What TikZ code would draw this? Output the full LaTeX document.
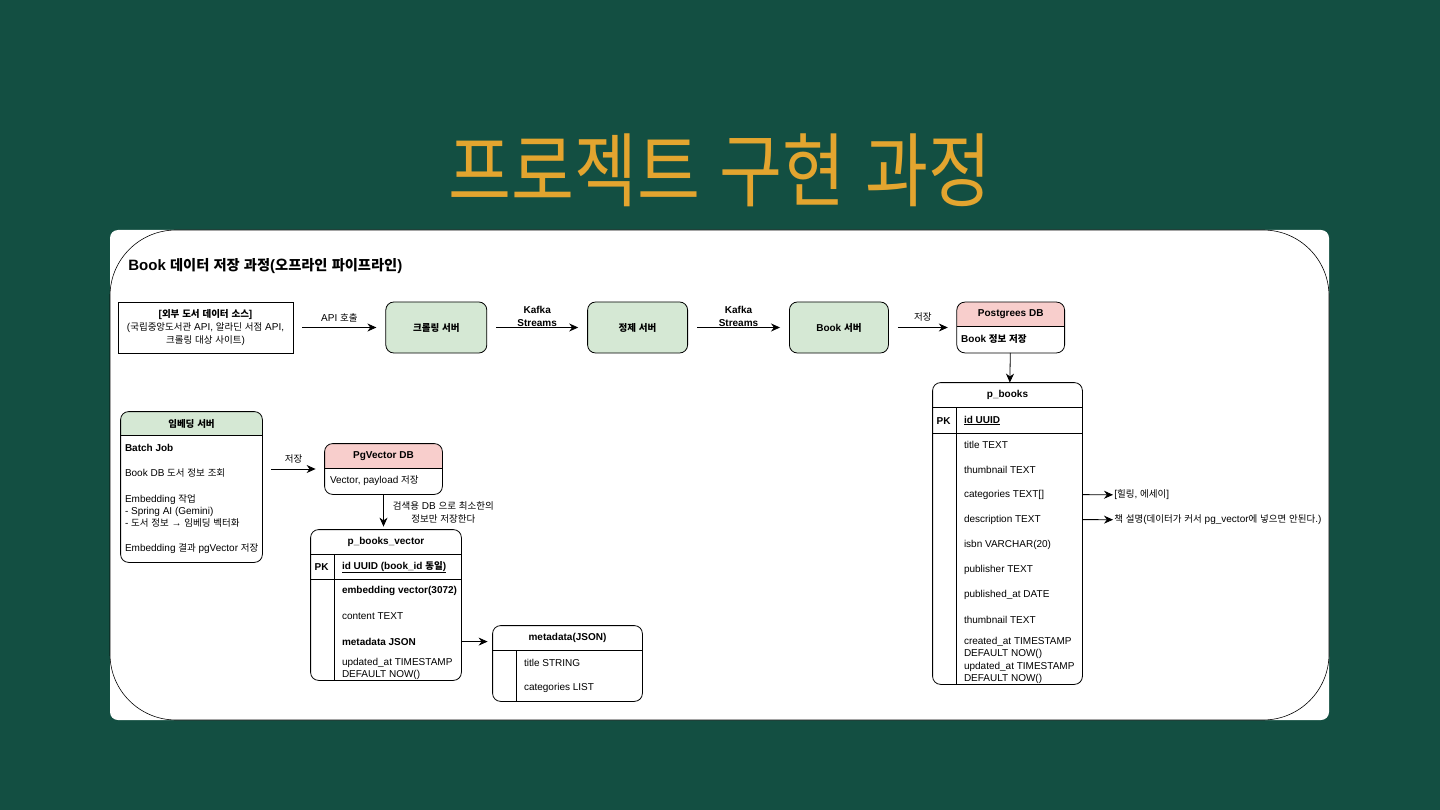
\documentclass[tikz,border=0pt]{standalone}
\usepackage{fontspec}
\usepackage{graphicx}
\setmainfont{Liberation Sans}
\newfontfamily\krfont[Scale=0.95]{Noto Sans CJK KR}
% hangul syllables are set in the CJK font, the rest in Liberation Sans
\XeTeXinterchartokenstate=1
\newXeTeXintercharclass\hangulclass
\count255="AC00
\loop
  \XeTeXcharclass\count255=\hangulclass
  \advance\count255 by 1
\ifnum\count255<"D7A4 \repeat
\XeTeXinterchartoks 0 \hangulclass = {\begingroup\krfont}
\XeTeXinterchartoks 4095 \hangulclass = {\begingroup\krfont}
\XeTeXinterchartoks \hangulclass 0 = {\endgroup}
\XeTeXinterchartoks \hangulclass 4095 = {\endgroup}
\usetikzlibrary{arrows.meta,positioning}
\definecolor{slide}{HTML}{134F42}
\definecolor{gold}{HTML}{E3A52F}
\definecolor{srvgreen}{HTML}{D5E8D4}
\definecolor{dbpink}{HTML}{F8CECC}

\begin{document}
\begin{tikzpicture}[
  x=1pt, y=-1pt,
  font=\fontsize{10}{12}\selectfont,
  line width=0.8pt,
  srv/.style={draw, rounded corners=8pt, fill=srvgreen, inner sep=0pt,
              minimum height=51pt, font=\fontsize{10}{12}\selectfont\bfseries},
  tbl/.style={inner sep=0pt},
  hdr/.style={inner sep=1pt, font=\fontsize{10}{12}\selectfont\bfseries},
  cell/.style={anchor=west, inner sep=1pt, align=left},
  bcell/.style={cell, font=\fontsize{10}{12}\selectfont\bfseries},
  lbl/.style={inner sep=1pt, align=center},
  flow/.style={-{Stealth[length=9pt,width=8pt]}, shorten <=9pt, shorten >=9pt},
  link/.style={-{Stealth[length=9pt,width=8pt]}}
]
\useasboundingbox (0,0) rectangle (1440,810);
\fill[slide] (0,0) rectangle (1440,810);
\node[text=gold, inner sep=0pt, font=\fontsize{72}{90}\selectfont] (ttl) at (720,170)
  {\scalebox{1}[1.18]{프로젝트 구현 과정}};
\fill[white, rounded corners=8pt] (110,230) rectangle (1329,720);
\draw[line width=0.6pt, rounded corners=66pt] (110,230) rectangle (1329,720);
\node[anchor=west, inner sep=0pt, font=\fontsize{15}{18}\selectfont\bfseries] (head) at (128,266)
  {Book 데이터 저장 과정(오프라인 파이프라인)};

% top row
\node[draw, minimum width=175pt, minimum height=51pt, inner sep=0pt, align=center,
      font=\fontsize{10}{13}\selectfont] (src) at (205.5,327.5)
  {\textbf{[외부 도서 데이터 소스]}\\(국립중앙도서관 API, 알라딘 서점 API,\\크롤링 대상 사이트)};
\node[srv, minimum width=101pt, right=92pt of src] (crawl) {크롤링 서버};
\node[srv, minimum width=100pt, right=100pt of crawl] (refine) {정제 서버};
\node[srv, minimum width=99pt, right=101pt of refine] (booksrv) {Book 서버};
\node[tbl, minimum width=107pt, minimum height=50pt, right=68pt of booksrv] (pg) {};
\begin{scope}
  \clip[rounded corners=8pt] (pg.north west) rectangle (pg.south east);
  \fill[dbpink] (pg.north west) rectangle ([yshift=-24pt]pg.north east);
\end{scope}
\draw[rounded corners=8pt] (pg.north west) rectangle (pg.south east);
\draw ([yshift=-24pt]pg.north west) -- ([yshift=-24pt]pg.north east);
\node[hdr] (pgt) at ([yshift=-12pt]pg.north) {Postgrees DB};
\node[bcell] (pgb) at ([shift={(3pt,-37pt)}]pg.north west) {Book 정보 저장};

\draw[flow] (src) -- node[lbl, above=4pt] (lapi) {API 호출} (crawl);
\draw[flow] (crawl) -- node[lbl, above=0pt, font=\fontsize{10}{13}\selectfont\bfseries] (lk1) {Kafka\\Streams} (refine);
\draw[flow] (refine) -- node[lbl, above=0pt, font=\fontsize{10}{13}\selectfont\bfseries] (lk2) {Kafka\\Streams} (booksrv);
\draw[flow] (booksrv) -- node[lbl, above=5pt] (lsave) {저장} (pg);

% p_books table
\node[tbl, minimum width=149pt, minimum height=301pt] (pb) at (1007.5,533.5) {};
\draw[rounded corners=8pt] (pb.north west) rectangle (pb.south east);
\draw ([yshift=-25pt]pb.north west) -- ([yshift=-25pt]pb.north east);
\draw ([yshift=-51pt]pb.north west) -- ([yshift=-51pt]pb.north east);
\draw ([shift={(24pt,-25pt)}]pb.north west) -- ([xshift=24pt]pb.south west);
\node[hdr] (pbt) at ([yshift=-12.5pt]pb.north) {p\_books};
\node[hdr] (pbk) at ([shift={(11pt,-38pt)}]pb.north west) {PK};
\node[bcell] (pbid) at ([shift={(30pt,-38pt)}]pb.north west) {\underline{id UUID}};
\foreach \txt [count=\i, evaluate=\i as \dy using 62+25*(\i-1)] in
  {title TEXT, thumbnail TEXT, categories TEXT[], description TEXT,
   isbn VARCHAR(20), publisher TEXT, published\_at DATE, thumbnail TEXT}
  \node[cell] (pb-\i) at ([shift={(30pt,-\dy pt)}]pb.north west) {\txt};
\node[cell] (pb-9) at ([shift={(30pt,-265pt)}]pb.north west) {created\_at TIMESTAMP\\DEFAULT NOW()};
\node[cell] (pb-10) at ([shift={(30pt,-290pt)}]pb.north west) {updated\_at TIMESTAMP\\DEFAULT NOW()};
\draw[link] (pg) -- (pb);

\node[lbl, anchor=west] (cat) at (1113,495) {[힐링, 에세이]};
\node[lbl, anchor=west] (desc) at (1113,520) {책 설명(데이터가 커서 pg\_vector에 넣으면 안된다.)};
\draw[link] (pb-3 -| pb.east) -- (cat);
\draw[link] (pb-4 -| pb.east) -- (desc);

% embedding side
\node[tbl, minimum width=141pt, minimum height=150pt] (emb) at (191.5,487) {};
\begin{scope}
  \clip[rounded corners=8pt] (emb.north west) rectangle (emb.south east);
  \fill[srvgreen] (emb.north west) rectangle ([yshift=-24pt]emb.north east);
\end{scope}
\draw[rounded corners=8pt] (emb.north west) rectangle (emb.south east);
\draw ([yshift=-24pt]emb.north west) -- ([yshift=-24pt]emb.north east);
\node[hdr] (embt) at ([yshift=-12pt]emb.north) {임베딩 서버};
\node[bcell] (emb-1) at ([shift={(3pt,-36pt)}]emb.north west) {Batch Job};
\node[cell] (emb-2) at ([shift={(3pt,-61pt)}]emb.north west) {Book DB 도서 정보 조회};
\node[cell] (emb-3) at ([shift={(3pt,-99pt)}]emb.north west)
  {Embedding 작업\\- Spring AI (Gemini)\\- 도서 정보 → 임베딩 벡터화};
\node[cell] (emb-4) at ([shift={(3pt,-137pt)}]emb.north west) {Embedding 결과 pgVector 저장};

\node[tbl, minimum width=117pt, minimum height=50pt] (pgv) at (383.5,469) {};
\begin{scope}
  \clip[rounded corners=8pt] (pgv.north west) rectangle (pgv.south east);
  \fill[dbpink] (pgv.north west) rectangle ([yshift=-25pt]pgv.north east);
\end{scope}
\draw[rounded corners=8pt] (pgv.north west) rectangle (pgv.south east);
\draw ([yshift=-25pt]pgv.north west) -- ([yshift=-25pt]pgv.north east);
\node[hdr] (pgvt) at ([yshift=-12.5pt]pgv.north) {PgVector DB};
\node[cell] (pgvb) at ([shift={(4pt,-37pt)}]pgv.north west) {Vector, payload 저장};
\draw[flow] (emb.east |- pgv) -- node[lbl, above=4pt] (lsave2) {저장} (pgv);

% p_books_vector table
\node[tbl, minimum width=150pt, minimum height=150pt] (pbv) at (386,605) {};
\draw[rounded corners=8pt] (pbv.north west) rectangle (pbv.south east);
\draw ([yshift=-25pt]pbv.north west) -- ([yshift=-25pt]pbv.north east);
\draw ([yshift=-50pt]pbv.north west) -- ([yshift=-50pt]pbv.north east);
\draw ([shift={(24pt,-25pt)}]pbv.north west) -- ([xshift=24pt]pbv.south west);
\node[hdr] (pbvt) at ([yshift=-12.5pt]pbv.north) {p\_books\_vector};
\node[hdr] (pbvk) at ([shift={(11pt,-37.5pt)}]pbv.north west) {PK};
\node[bcell] (pbvid) at ([shift={(30pt,-37.5pt)}]pbv.north west) {\underline{id UUID (book\_id 동일)}};
\node[bcell] (pbv-1) at ([shift={(30pt,-61pt)}]pbv.north west) {embedding vector(3072)};
\node[cell] (pbv-2) at ([shift={(30pt,-87pt)}]pbv.north west) {content TEXT};
\node[bcell] (pbv-3) at ([shift={(30pt,-112pt)}]pbv.north west) {metadata JSON};
\node[cell] (pbv-4) at ([shift={(30pt,-139pt)}]pbv.north west) {updated\_at TIMESTAMP\\DEFAULT NOW()};
\draw[link, shorten >=3pt] (pgv) -- node[lbl, right=8pt, font=\fontsize{10}{13}\selectfont] (lmin)
  {검색용 DB 으로 최소한의\\정보만 저장한다} (pgv |- pbv.north);

% metadata(JSON) table
\node[tbl, minimum width=149pt, minimum height=75pt] (mj) at (567.5,663.5) {};
\draw[rounded corners=8pt] (mj.north west) rectangle (mj.south east);
\draw ([yshift=-25pt]mj.north west) -- ([yshift=-25pt]mj.north east);
\draw ([shift={(24pt,-25pt)}]mj.north west) -- ([xshift=24pt]mj.south west);
\node[hdr] (mjt) at ([yshift=-12.5pt]mj.north) {metadata(JSON)};
\node[cell] (mj-1) at ([shift={(30pt,-37pt)}]mj.north west) {title STRING};
\node[cell] (mj-2) at ([shift={(30pt,-62pt)}]mj.north west) {categories LIST};
\draw[link, shorten >=5pt] (pbv-3 -| pbv.east) -- (pbv-3 -| mj.west);
\end{tikzpicture}
\end{document}
